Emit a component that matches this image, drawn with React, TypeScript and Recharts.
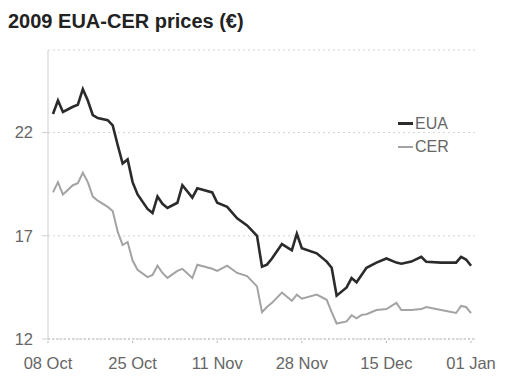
import { LineChart, Line, XAxis, YAxis, CartesianGrid } from "recharts";

// day index counted from 08 Oct 2009
const days = [
  1, 2, 3, 5, 6, 7, 8, 9, 10, 12, 13, 14, 15, 16, 17, 18, 20, 21, 22, 23, 24, 26, 27, 29, 30, 33,
  34, 36, 38, 40, 42, 43, 44, 45, 47, 49, 50, 51, 54, 56, 57, 58, 60, 61, 62, 63, 64, 66, 68, 70,
  71, 73, 75, 76, 79, 82, 83, 84, 85,
];
const eua = [
  22.9, 23.55, 23.0, 23.25, 23.35, 24.1, 23.55, 22.85, 22.7, 22.6, 22.35, 21.4, 20.5, 20.7, 19.6,
  19.0, 18.3, 18.1, 18.9, 18.55, 18.35, 18.6, 19.45, 18.85, 19.3, 19.1, 18.6, 18.4, 17.85, 17.5,
  17.0, 15.5, 15.6, 15.9, 16.6, 16.3, 17.1, 16.4, 16.15, 15.75, 15.45, 14.1, 14.5, 14.95, 14.75,
  15.1, 15.45, 15.7, 15.9, 15.7, 15.65, 15.75, 15.98, 15.74, 15.7, 15.7, 15.98, 15.85, 15.55,
];
const cer = [
  19.1, 19.6, 19.0, 19.45, 19.55, 20.05, 19.6, 18.9, 18.7, 18.4, 18.2, 17.2, 16.55, 16.7, 15.8,
  15.35, 15.0, 15.1, 15.55, 15.2, 14.96, 15.3, 15.4, 14.95, 15.6, 15.4, 15.3, 15.55, 15.2, 15.05,
  14.55, 13.3, 13.55, 13.75, 14.25, 13.85, 14.15, 13.95, 14.15, 13.9, 13.3, 12.75, 12.85, 13.15,
  13.0, 13.17, 13.2, 13.4, 13.45, 13.75, 13.4, 13.4, 13.45, 13.55, 13.4, 13.26, 13.6, 13.55, 13.25,
];
const xTicks = [0, 17, 34, 51, 68, 85];
const xLabels = ["08 Oct", "25 Oct", "11 Nov", "28 Nov", "15 Dec", "01 Jan"];
const yTicks = [12, 17, 22];

const data = days.map((d, i) => ({ day: d, EUA: eua[i], CER: cer[i] }));

const font = "'Liberation Sans', Arial, sans-serif";

const series = [
  { name: "EUA", color: "#2b2b2b", w: 3 },
  { name: "CER", color: "#a3a3a3", w: 2 },
];

export default function App() {
  return (
    <div style={{ position: "absolute", left: 0, top: 0, width: 511, height: 385, background: "#fff" }}>
      <div
        style={{
          position: "absolute",
          left: 8,
          top: 11,
          fontFamily: font,
          fontWeight: "bold",
          fontSize: 20,
          lineHeight: "20px",
          color: "#222",
        }}
      >
        2009 EUA-CER prices (€)
      </div>
      <LineChart width={511} height={385} data={data} margin={{ top: 50, right: 35, bottom: 16, left: 0 }}>
        <CartesianGrid horizontal vertical={false} stroke="#d4d4d4" strokeDasharray="2 3" />
        <XAxis
          dataKey="day"
          type="number"
          domain={[0, 86]}
          ticks={xTicks}
          tickFormatter={(v: number) => xLabels[xTicks.indexOf(v)]}
          height={30}
          tickSize={4}
          tickMargin={14}
          stroke="#b5b5b5"
          strokeDasharray="2 2"
          tick={{ fill: "#666", fontSize: 16.5, fontFamily: font }}
        />
        <YAxis
          type="number"
          domain={[12, 26]}
          ticks={yTicks}
          width={48}
          tickSize={6}
          tickMargin={9}
          stroke="#cfcfcf"
          tick={{ fill: "#666", fontSize: 16.5, fontFamily: font }}
        />
        <Line dataKey="CER" stroke="#a3a3a3" strokeWidth={2} dot={false} isAnimationActive={false} />
        <Line dataKey="EUA" stroke="#2b2b2b" strokeWidth={2.6} dot={false} isAnimationActive={false} />
      </LineChart>
      <div
        style={{
          position: "absolute",
          left: 398,
          top: 112,
          fontFamily: font,
          fontSize: 16,
          color: "#666",
          lineHeight: "23px",
        }}
      >
        {series.map((s) => (
          <div key={s.name} style={{ display: "flex", alignItems: "center" }}>
            <span style={{ width: 15, height: s.w, background: s.color, marginRight: 2 }} />
            {s.name}
          </div>
        ))}
      </div>
    </div>
  );
}
